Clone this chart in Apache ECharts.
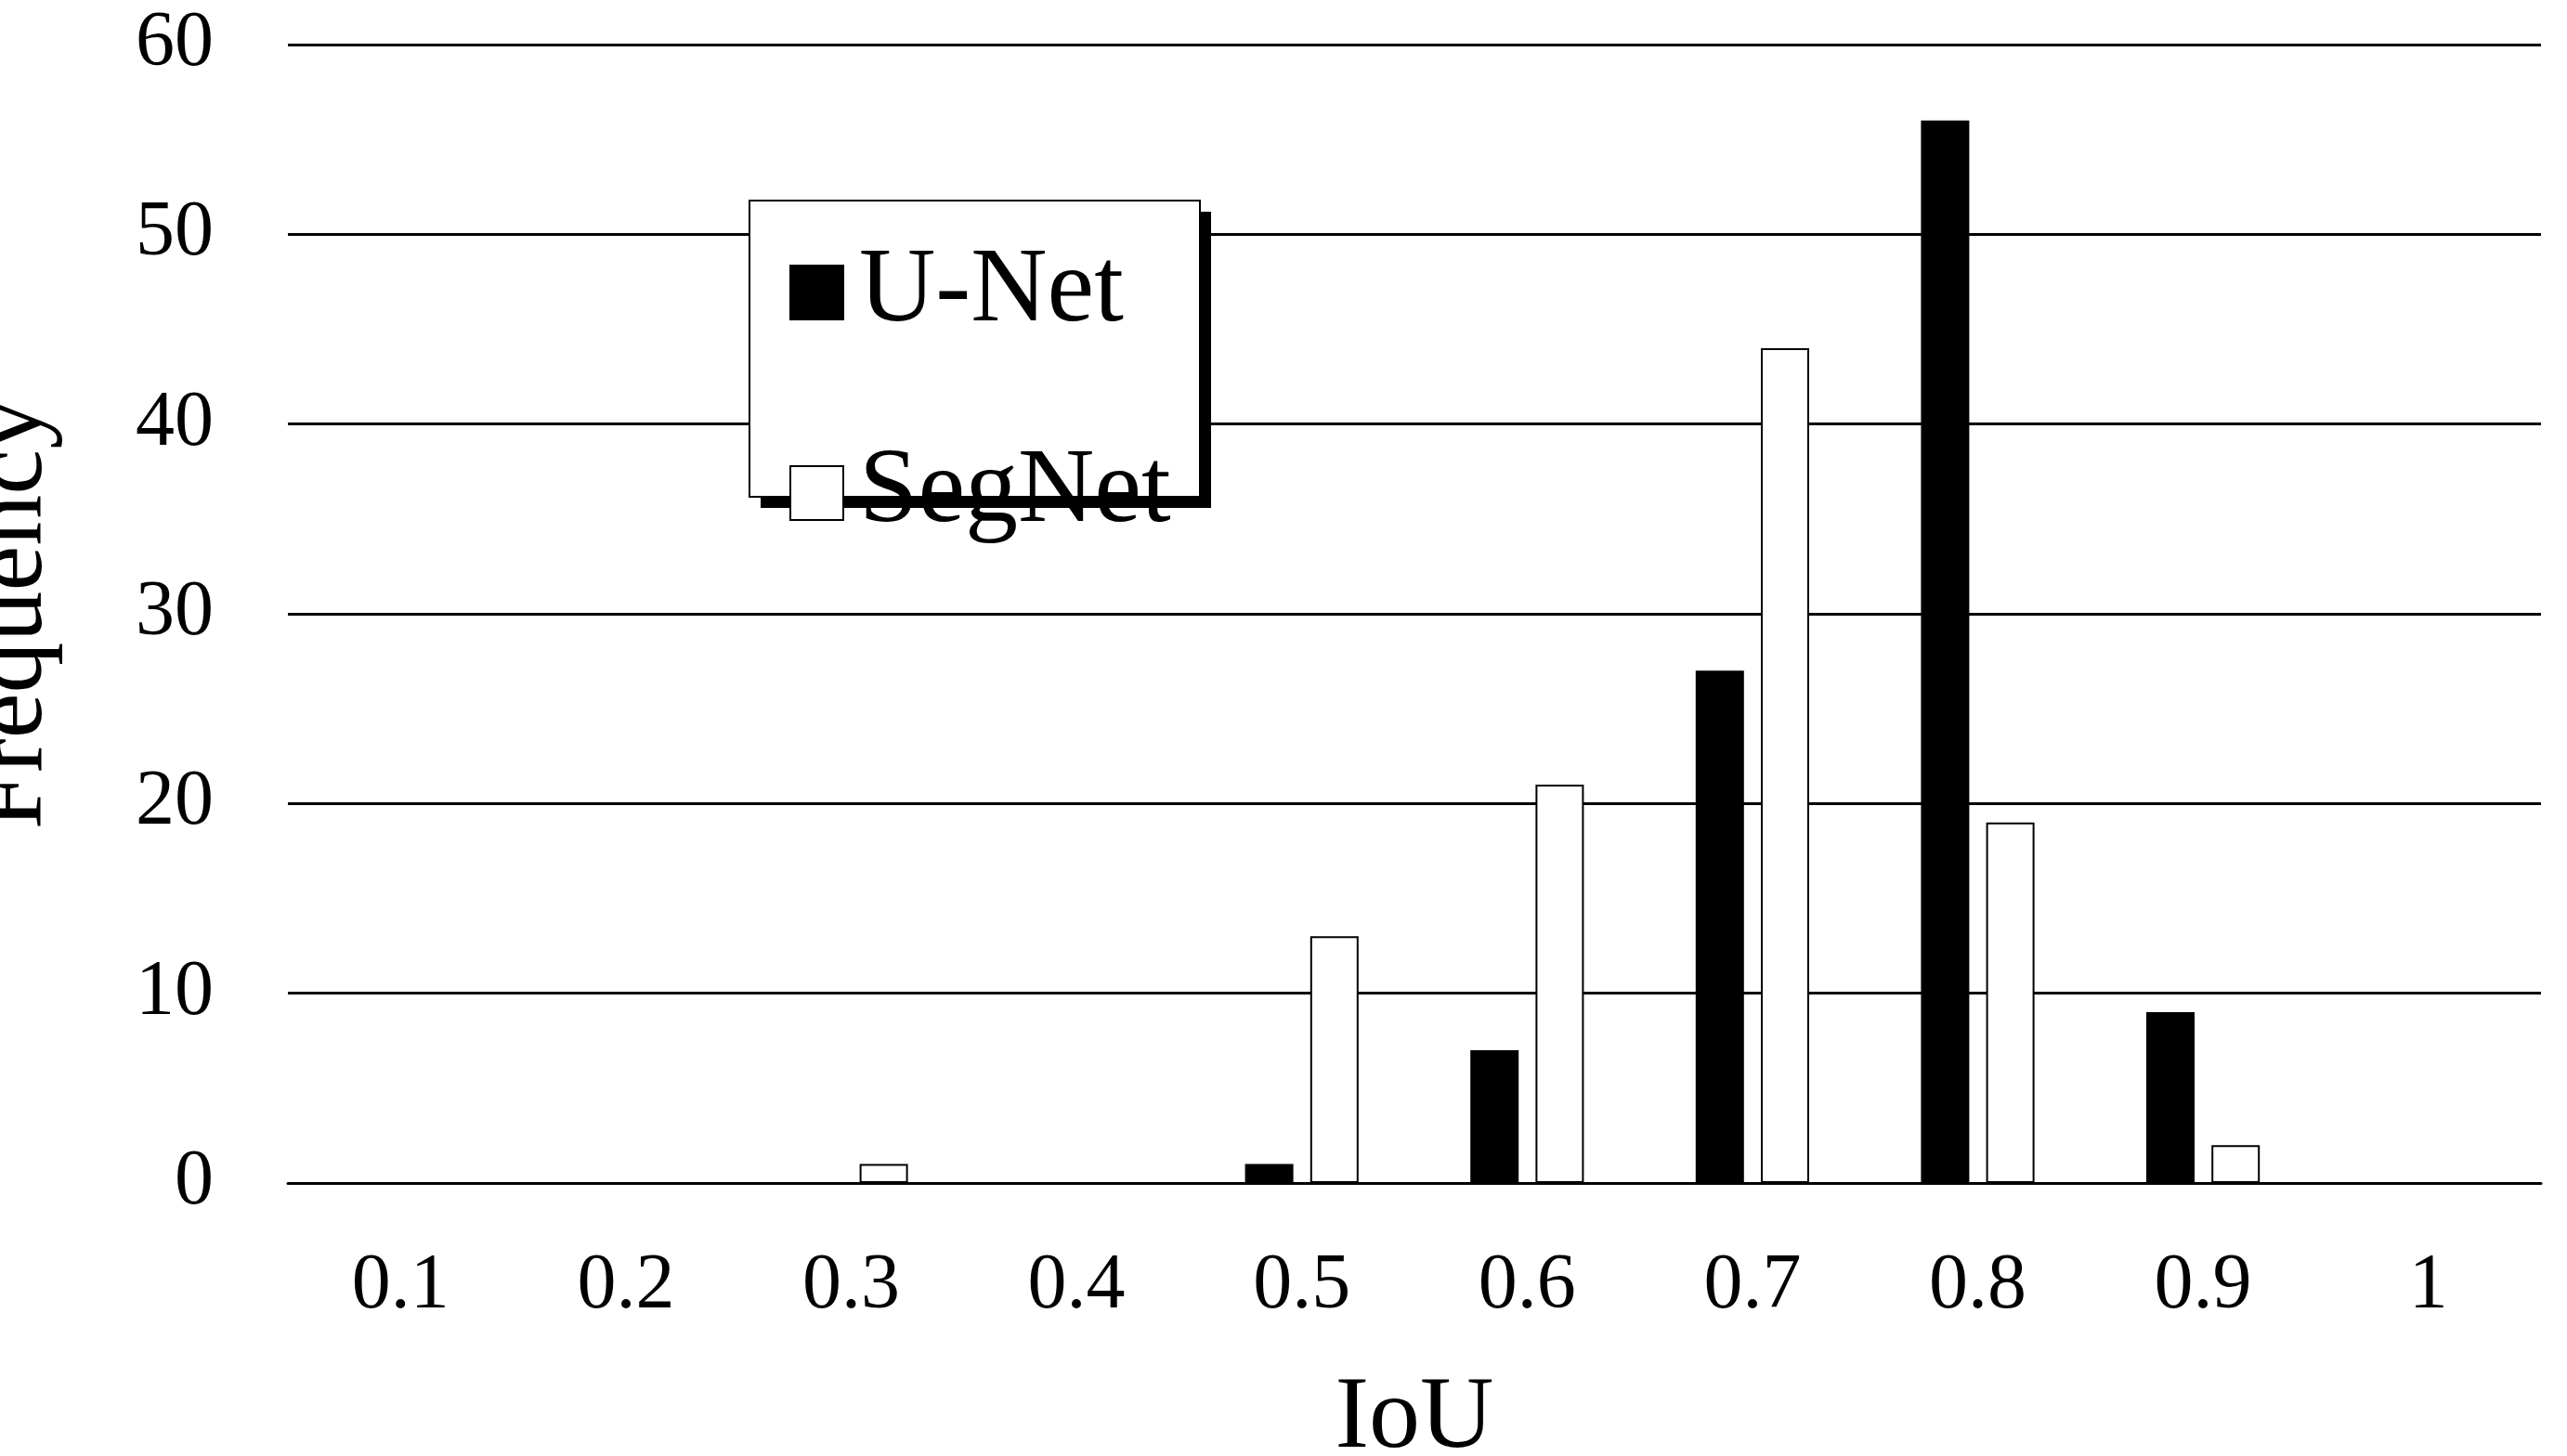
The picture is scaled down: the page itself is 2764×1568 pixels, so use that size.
<!DOCTYPE html>
<html><head><meta charset="utf-8">
<script src="https://cdn.jsdelivr.net/npm/echarts@6/dist/echarts.min.js"></script>
<style>html,body{margin:0;background:#fff}#box{width:2764px;height:1568px}</style>
</head><body><div id="box"></div>
<script>
// 数据
var categories = ['0.1', '0.2', '0.3', '0.4', '0.5', '0.6', '0.7', '0.8', '0.9', '1'];
var unet = [0, 0, 0, 0, 1, 7, 27, 56, 9, 0];
var segnet = [0, 0, 1, 0, 13, 21, 44, 19, 2, 0];

var myChart = echarts.init(document.getElementById('box'));
var font = 'Liberation Serif';
var option = {
    backgroundColor: '#fff',
    textStyle: { fontFamily: font },
    grid: { left: 310, right: 28, top: 48, bottom: 294, outerBoundsMode: 'none' },
    // 图例外框和阴影
    graphic: [
        { type: 'rect', z: 1, shape: { x: 819, y: 228, width: 485, height: 319 }, style: { fill: '#000' } },
        { type: 'rect', z: 2, shape: { x: 807, y: 216, width: 485, height: 319 }, style: { fill: '#fff', stroke: '#000', lineWidth: 2 } }
    ],
    legend: {
        orient: 'vertical',
        left: 850, top: 258,
        padding: 0,
        itemWidth: 57, itemHeight: 58, itemGap: 102,
        icon: 'rect',
        z: 5,
        textStyle: { fontFamily: font, fontSize: 114, lineHeight: 58, color: '#000', padding: [0, 0, 0, 12] },
        data: [
            { name: 'U-Net', itemStyle: { color: '#000', borderColor: '#000', borderWidth: 2 } },
            { name: 'SegNet', itemStyle: { color: '#fff', borderColor: '#000', borderWidth: 2 } }
        ]
    },
    xAxis: {
        type: 'category',
        data: categories,
        name: 'IoU', nameLocation: 'middle', nameGap: 200,
        nameTextStyle: { fontFamily: font, fontSize: 110, color: '#000' },
        axisLine: { lineStyle: { color: '#000', width: 3 } },
        axisTick: { show: false },
        axisLabel: { fontFamily: font, fontSize: 84, color: '#000', margin: 70 }
    },
    yAxis: {
        type: 'value', min: 0, max: 60, interval: 10,
        name: 'Frequency', nameLocation: 'middle', nameGap: 240,
        nameTextStyle: { fontFamily: font, fontSize: 110, color: '#000' },
        axisLine: { show: false }, axisTick: { show: false },
        axisLabel: { fontFamily: font, fontSize: 84, color: '#000', margin: 80 },
        splitLine: { lineStyle: { color: '#000', width: 3 } }
    },
    series: [
        { name: 'U-Net', type: 'bar', data: unet, barWidth: 52, barGap: '35%',
          itemStyle: { color: '#000', borderColor: '#000', borderWidth: 2 } },
        { name: 'SegNet', type: 'bar', data: segnet, barWidth: 52,
          itemStyle: { color: '#fff', borderColor: '#000', borderWidth: 2 } }
    ]
};
myChart.setOption(option);
</script></body></html>
